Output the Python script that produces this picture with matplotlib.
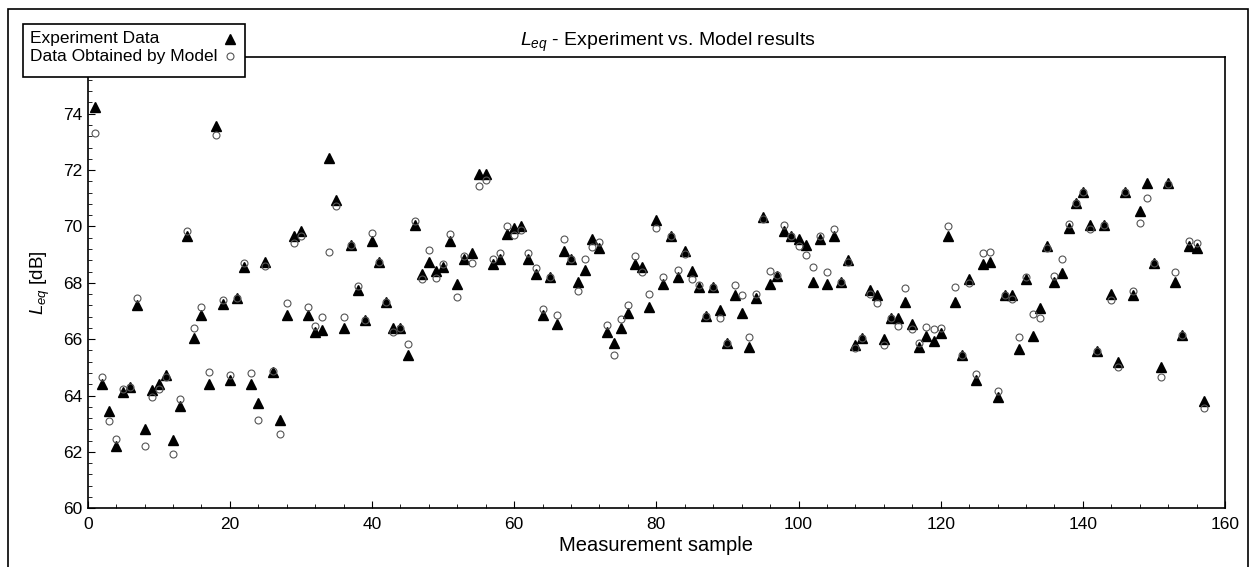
import numpy as np
import matplotlib
matplotlib.use("Agg")
import matplotlib.pyplot as plt
from matplotlib.patches import Rectangle
from matplotlib.lines import Line2D
from matplotlib.ticker import MultipleLocator

plt.rcParams['font.family'] = ['Liberation Sans', 'DejaVu Sans']
plt.rcParams['mathtext.fontset'] = 'custom'
plt.rcParams['mathtext.it'] = 'Liberation Sans:italic'
plt.rcParams['mathtext.rm'] = 'Liberation Sans'

# measured values (experiment) and model output, samples 1..157
experiment = [
    74.24, 64.41, 63.44, 62.21, 64.12, 64.32, 67.21, 62.82, 64.21, 64.41,
    64.74, 62.41, 63.62, 69.65, 66.04, 66.85, 64.41, 73.56, 67.24, 64.56,
    67.45, 68.55, 64.41, 63.74, 68.73, 64.85, 63.12, 66.85, 69.65, 69.85,
    66.85, 66.24, 66.32, 72.44, 70.94, 66.41, 69.33, 67.76, 66.67, 69.47,
    68.74, 67.33, 66.41, 66.41, 65.45, 70.04, 68.32, 68.74, 68.41, 68.56,
    69.47, 67.94, 68.85, 69.04, 71.85, 71.85, 68.65, 68.85, 69.74, 69.94,
    70.02, 68.85, 68.32, 66.85, 68.20, 66.55, 69.14, 68.85, 68.02, 68.44,
    69.55, 69.24, 66.24, 65.85, 66.41, 66.94, 68.65, 68.55, 67.14, 70.24,
    67.96, 69.65, 68.21, 69.12, 68.41, 67.85, 66.82, 67.85, 67.02, 65.85,
    67.55, 66.94, 65.73, 67.45, 70.32, 67.96, 68.24, 69.85, 69.65, 69.55,
    69.33, 68.02, 69.56, 67.94, 69.65, 68.02, 68.80, 65.80, 66.04, 67.73,
    67.55, 66.02, 66.76, 66.74, 67.33, 66.55, 65.74, 66.12, 65.94, 66.21,
    69.65, 67.33, 65.45, 68.12, 64.55, 68.65, 68.73, 63.94, 67.55, 67.55,
    65.65, 68.15, 66.12, 67.12, 69.32, 68.02, 68.33, 69.94, 70.82, 71.21,
    70.04, 65.59, 70.04, 67.62, 65.20, 71.21, 67.55, 70.53, 71.53, 68.71,
    65.02, 71.53, 68.02, 66.15, 69.32, 69.24, 63.80,
]
model = [
    73.33, 64.67, 63.09, 62.45, 64.24, 64.32, 67.45, 62.21, 63.96, 64.24,
    64.67, 61.92, 63.88, 69.85, 66.41, 67.14, 64.82, 73.26, 67.39, 64.74,
    67.45, 68.70, 64.79, 63.12, 68.59, 64.88, 62.65, 67.29, 69.41, 69.65,
    67.14, 66.47, 66.79, 69.09, 70.71, 66.79, 69.33, 67.88, 66.67, 69.76,
    68.74, 67.33, 66.27, 66.41, 65.82, 70.20, 68.15, 69.15, 68.18, 68.65,
    69.74, 67.49, 68.94, 68.71, 71.45, 71.65, 68.86, 69.06, 70.02, 69.71,
    69.88, 69.04, 68.51, 67.08, 68.20, 66.86, 69.54, 68.85, 67.71, 68.86,
    69.27, 69.45, 66.51, 65.44, 66.73, 67.20, 68.94, 68.38, 67.62, 69.94,
    68.20, 69.65, 68.45, 69.02, 68.12, 67.92, 66.82, 67.85, 66.76, 65.85,
    67.91, 67.55, 66.08, 67.59, 70.27, 68.41, 68.29, 70.04, 69.65, 69.32,
    68.98, 68.55, 69.65, 68.39, 69.92, 68.02, 68.73, 65.67, 66.04, 67.59,
    67.29, 65.79, 66.76, 66.47, 67.80, 66.35, 65.86, 66.44, 66.35, 66.39,
    70.00, 67.86, 65.45, 68.00, 64.76, 69.06, 69.08, 64.15, 67.55, 67.41,
    66.06, 68.20, 66.91, 66.76, 69.24, 68.24, 68.86, 70.08, 70.82, 71.21,
    69.91, 65.59, 70.04, 67.39, 65.00, 71.21, 67.71, 70.12, 71.02, 68.71,
    64.65, 71.50, 68.38, 66.15, 69.49, 69.41, 63.56,
]
samples = np.arange(1, len(experiment) + 1)
legend_labels = ['Experiment Data', 'Data Obtained by Model']

W, H = 1255, 567
fig = plt.figure(figsize=(W / 100, H / 100), dpi=100)
ax = fig.add_axes([87.7 / W, 1 - 508.3 / H, (1225 - 87.7) / W, (508.3 - 57.3) / H])

tri_style = dict(linestyle='none', marker='^', markersize=7.5, color='black')
circ_style = dict(linestyle='none', marker='o', markersize=5, markerfacecolor='none',
                  markeredgecolor='#555555', markeredgewidth=0.8)

ax.plot(samples, experiment, zorder=3, **tri_style)
ax.plot(samples, model, zorder=4, **circ_style)

ax.set_xlim(0, 160)
ax.set_ylim(60, 76)
ax.xaxis.set_major_locator(MultipleLocator(20))
ax.xaxis.set_minor_locator(MultipleLocator(4))
ax.set_yticks(np.arange(60, 75, 2))
ax.yaxis.set_minor_locator(MultipleLocator(0.4))
ax.tick_params(which='both', direction='in', top=False, right=False, labelsize=12.5)
ax.tick_params(axis='x', pad=6)
ax.tick_params(which='major', length=5)
ax.tick_params(which='minor', length=3)
for s in ax.spines.values():
    s.set_linewidth(1.2)

ax.set_title('$L_{eq}$ - Experiment vs. Model results', fontsize=14, pad=8, x=0.51)
ax.set_xlabel('Measurement sample', fontsize=14.5, labelpad=3)
ax.set_ylabel('$L_{eq}$ [dB]', fontsize=13.5, labelpad=8)

# legend box drawn by hand: text on the left, marker on the right
tf = fig.transFigure
fig.add_artist(Rectangle((22.7 / W, 1 - 77 / H), (245 - 22.7) / W, (77 - 24.3) / H,
                         transform=tf, facecolor='white', edgecolor='black',
                         linewidth=1.2, zorder=5))
for row, (lab, st) in enumerate(zip(legend_labels, [tri_style, circ_style])):
    yc = 1 - (39 + 17 * row) / H
    fig.text(30 / W, yc, lab, ha='left', va='center', fontsize=12.5, zorder=6)
    fig.add_artist(Line2D([230 / W], [yc], transform=tf, zorder=6, **st))

# outer frame around the whole picture
fig.add_artist(Rectangle((8 / W, -0.01), (1248 - 8) / W, 1.01 - 9 / H,
                         transform=tf, fill=False, edgecolor='black',
                         linewidth=1.2, zorder=4))

fig.savefig('out.png', dpi=100)
